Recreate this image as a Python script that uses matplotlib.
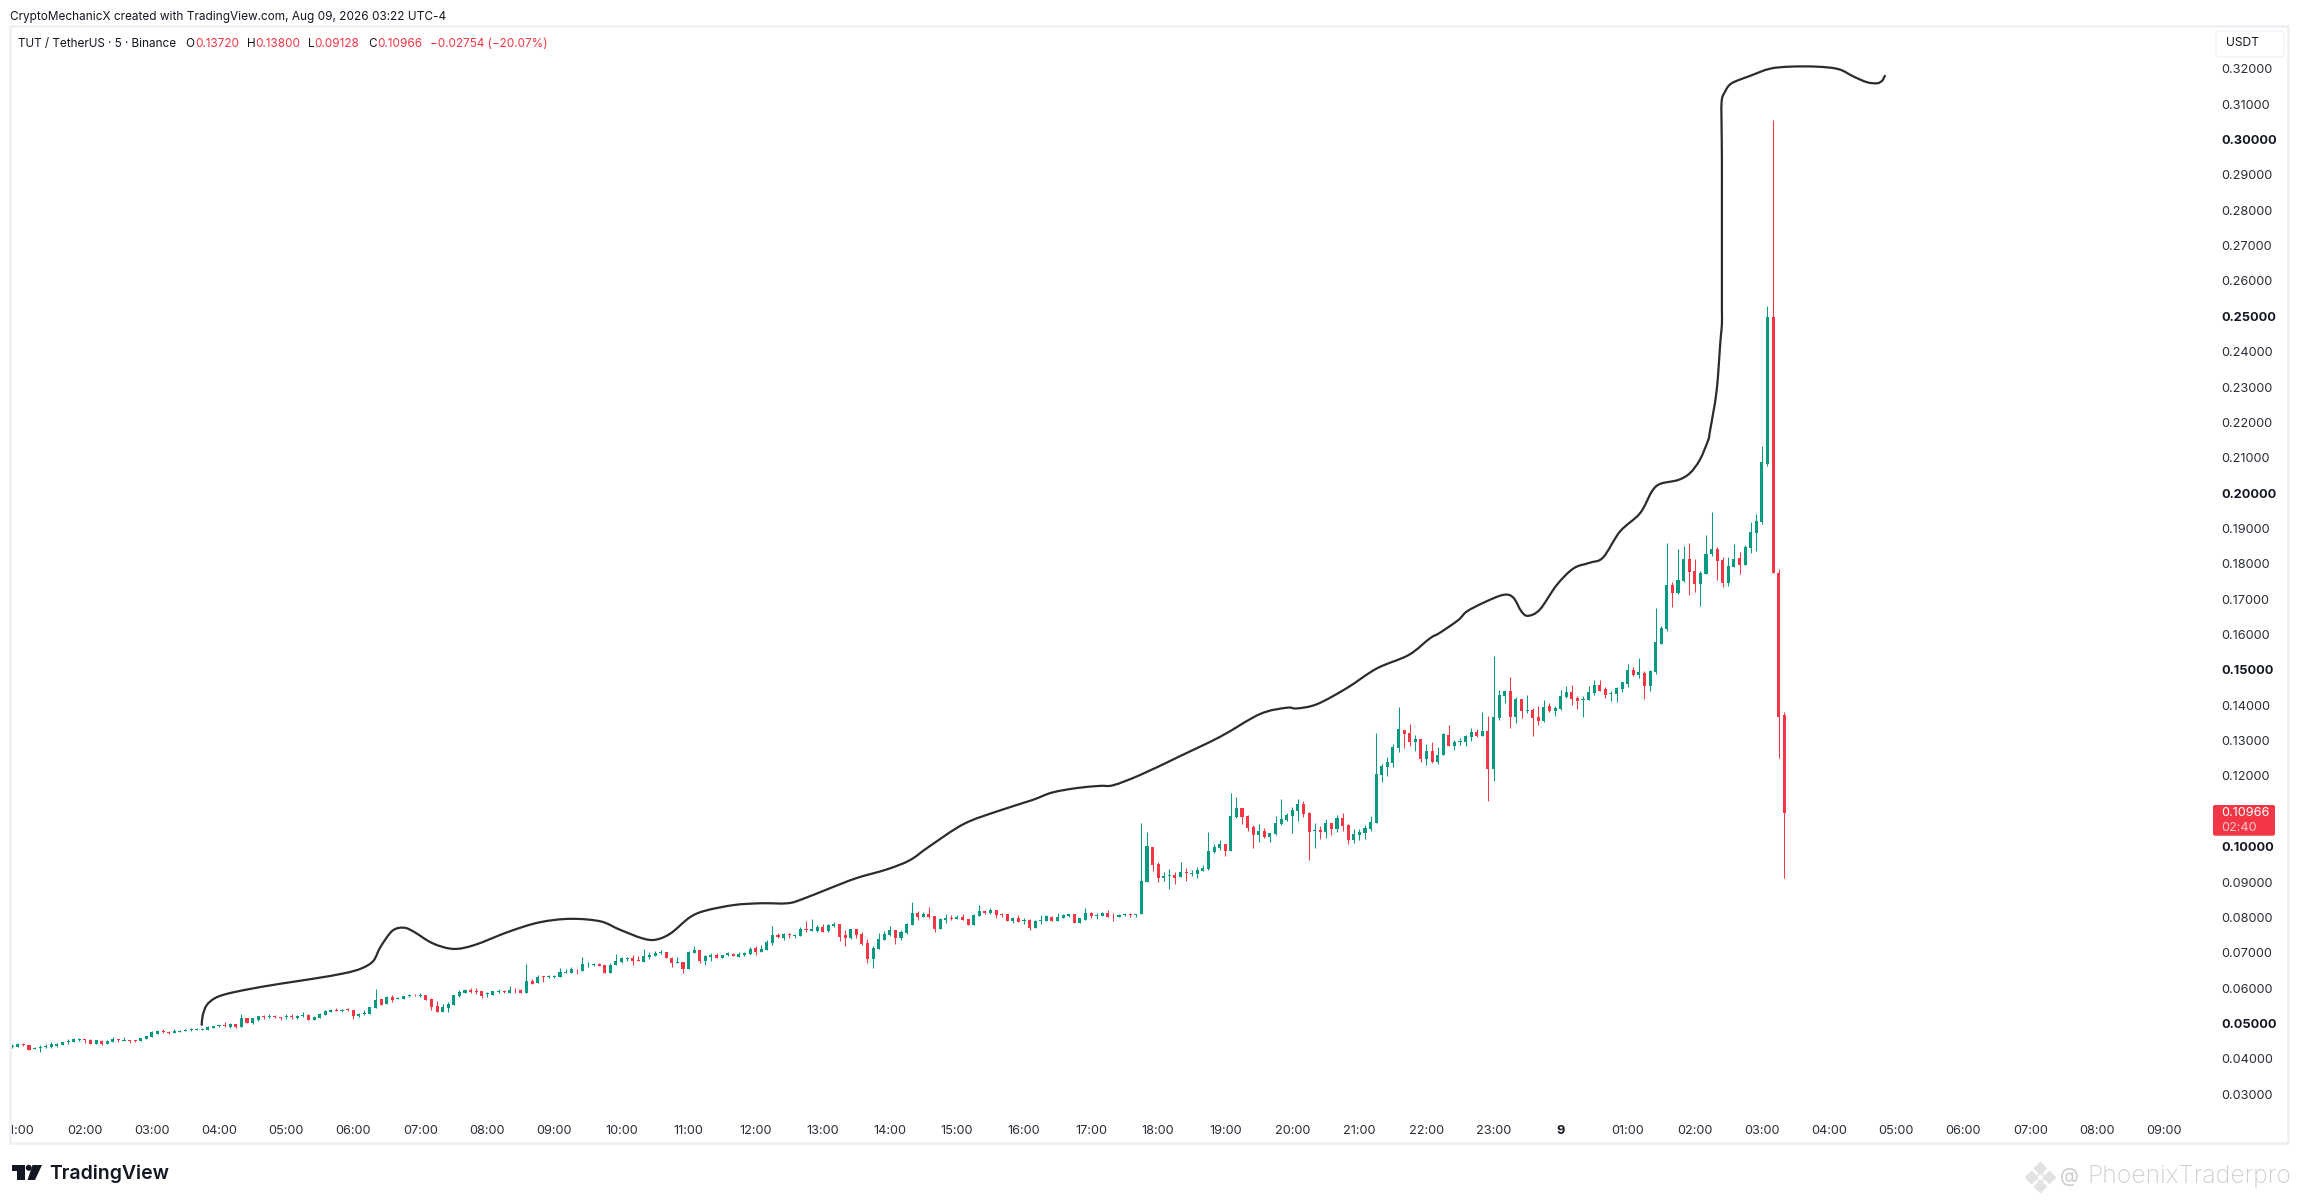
"""
TUT / USDT 5 minute candles with a hand drawn line above them
"""

import numpy as np
import matplotlib
matplotlib.use('Agg')
import matplotlib.pyplot as plt
from matplotlib.patches import Rectangle, Polygon, Circle, FancyBboxPatch, PathPatch
from matplotlib.path import Path

plt.rcParams['font.family'] = ['Inter', 'DejaVu Sans']

# candles
opens = [
    .0433, .0434, .0443, .0439, .0429, .0431, .0434, .0433, .0436, .0440,
    .0448, .0448, .0454, .0455, .0454, .0442, .0451, .0443, .0448, .0455,
    .0451, .0452, .0453, .0451, .0457, .0463, .0471, .0480, .0476, .0474,
    .0477, .0480, .0482, .0483, .0483, .0483, .0488, .0493, .0497, .0489,
    .0499, .0491, .0515, .0501, .0511, .0521, .0517, .0522, .0517, .0519,
    .0521, .0516, .0521, .0525, .0511, .0516, .0524, .0533, .0538, .0536,
    .0540, .0537, .0521, .0528, .0527, .0545, .0568, .0555, .0576, .0570,
    .0569, .0579, .0581, .0579, .0580, .0570, .0550, .0533, .0544, .0552,
    .0578, .0586, .0595, .0592, .0592, .0584, .0581, .0590, .0593, .0586,
    .0593, .0596, .0586, .0620, .0615, .0632, .0632, .0632, .0632, .0644,
    .0643, .0652, .0649, .0667, .0665, .0668, .0665, .0644, .0665, .0674,
    .0681, .0684, .0678, .0674, .0688, .0692, .0700, .0702, .0686, .0672,
    .0673, .0655, .0699, .0708, .0678, .0688, .0694, .0686, .0694, .0697,
    .0689, .0695, .0697, .0713, .0702, .0708, .0727, .0751, .0743, .0753,
    .0748, .0747, .0766, .0763, .0763, .0774, .0761, .0776, .0781, .0750,
    .0741, .0767, .0752, .0727, .0682, .0711, .0737, .0749, .0764, .0742,
    .0755, .0778, .0813, .0801, .0809, .0804, .0767, .0793, .0799, .0796,
    .0801, .0795, .0778, .0804, .0818, .0812, .0820, .0810, .0810, .0789,
    .0799, .0789, .0793, .0770, .0791, .0791, .0801, .0791, .0799, .0804,
    .0810, .0784, .0794, .0812, .0805, .0805, .0812, .0805, .0802, .0808,
    .0810, .0808, .0810, .0901, .0999, .0951, .0911, .0917, .0920, .0914,
    .0928, .0922, .0923, .0931, .0937, .0985, .0996, .1007, .0988, .1084,
    .1109, .1087, .1056, .1033, .1044, .1027, .1036, .1064, .1075, .1087,
    .1101, .1121, .1095, .1044, .1047, .1041, .1067, .1050, .1081, .1061,
    .1019, .1033, .1038, .1050, .1067, .1203, .1225, .1237, .1279, .1330,
    .1321, .1296, .1304, .1248, .1270, .1239, .1259, .1316, .1285, .1296,
    .1296, .1310, .1324, .1313, .1327, .1220, .1364, .1426, .1440, .1367,
    .1418, .1384, .1386, .1367, .1355, .1398, .1384, .1389, .1423, .1437,
    .1420, .1415, .1415, .1435, .1457, .1446, .1432, .1432, .1446, .1460,
    .1499, .1485, .1491, .1454, .1494, .1573, .1615, .1740, .1717, .1751,
    .1814, .1780, .1743, .1771, .1828, .1842, .1811, .1746, .1791, .1816,
    .1797, .1845, .1887, .1917, .2081, .2498, .1774, .13720,
]
highs = [
    .0441, .0444, .0445, .0439, .0433, .0439, .0442, .0448, .0445, .0448,
    .0455, .0459, .0460, .0455, .0455, .0453, .0453, .0452, .0462, .0455,
    .0462, .0452, .0453, .0460, .0466, .0480, .0482, .0484, .0478, .0484,
    .0481, .0484, .0487, .0486, .0486, .0494, .0493, .0497, .0504, .0501,
    .0500, .0526, .0515, .0515, .0522, .0524, .0527, .0523, .0517, .0527,
    .0526, .0525, .0532, .0526, .0520, .0531, .0538, .0540, .0545, .0541,
    .0544, .0538, .0530, .0538, .0548, .0597, .0570, .0578, .0580, .0576,
    .0577, .0583, .0584, .0585, .0581, .0572, .0564, .0555, .0560, .0582,
    .0596, .0598, .0600, .0599, .0593, .0588, .0592, .0597, .0596, .0605,
    .0599, .0597, .0668, .0626, .0636, .0633, .0637, .0636, .0656, .0654,
    .0659, .0653, .0687, .0673, .0670, .0670, .0666, .0670, .0696, .0687,
    .0688, .0694, .0691, .0711, .0701, .0706, .0708, .0702, .0687, .0688,
    .0674, .0704, .0719, .0709, .0694, .0699, .0698, .0695, .0702, .0699,
    .0702, .0703, .0717, .0720, .0723, .0736, .0776, .0757, .0757, .0756,
    .0753, .0773, .0790, .0795, .0778, .0781, .0780, .0787, .0781, .0764,
    .0768, .0767, .0759, .0738, .0719, .0756, .0763, .0776, .0764, .0764,
    .0783, .0843, .0818, .0815, .0829, .0805, .0797, .0810, .0806, .0807,
    .0810, .0795, .0809, .0835, .0820, .0827, .0821, .0813, .0811, .0802,
    .0807, .0797, .0795, .0792, .0807, .0807, .0803, .0812, .0811, .0811,
    .0811, .0799, .0827, .0815, .0812, .0815, .0821, .0812, .0809, .0813,
    .0813, .0811, .1067, .1041, .0999, .0957, .0928, .0937, .0928, .0957,
    .0940, .0934, .0942, .0948, .1041, .1007, .1019, .1007, .1152, .1140,
    .1109, .1090, .1061, .1064, .1053, .1038, .1087, .1135, .1095, .1112,
    .1135, .1129, .1098, .1067, .1058, .1078, .1067, .1089, .1095, .1064,
    .1050, .1050, .1061, .1087, .1321, .1234, .1254, .1290, .1395, .1330,
    .1347, .1316, .1304, .1290, .1296, .1282, .1321, .1344, .1302, .1307,
    .1316, .1336, .1333, .1381, .1369, .1539, .1443, .1443, .1480, .1423,
    .1418, .1429, .1392, .1398, .1415, .1406, .1398, .1443, .1454, .1457,
    .1426, .1426, .1454, .1471, .1471, .1451, .1440, .1451, .1466, .1516,
    .1508, .1533, .1497, .1500, .1675, .1624, .1859, .1748, .1842, .1850,
    .1859, .1814, .1780, .1881, .1946, .1847, .1819, .1819, .1856, .1833,
    .1853, .1918, .1941, .2133, .2529, .3054, .1786, .13800,
]
lows = [
    .0432, .0433, .0437, .0425, .0428, .0420, .0432, .0432, .0434, .0439,
    .0443, .0447, .0450, .0445, .0442, .0441, .0438, .0442, .0447, .0448,
    .0450, .0445, .0448, .0450, .0456, .0462, .0470, .0473, .0471, .0473,
    .0476, .0479, .0479, .0481, .0482, .0482, .0487, .0490, .0490, .0488,
    .0488, .0490, .0501, .0500, .0507, .0514, .0516, .0516, .0511, .0514,
    .0514, .0514, .0517, .0510, .0510, .0516, .0523, .0532, .0535, .0532,
    .0535, .0514, .0518, .0524, .0526, .0544, .0552, .0554, .0562, .0568,
    .0568, .0576, .0579, .0574, .0566, .0538, .0532, .0532, .0532, .0551,
    .0576, .0585, .0587, .0583, .0572, .0576, .0580, .0585, .0586, .0585,
    .0586, .0585, .0585, .0611, .0614, .0617, .0630, .0630, .0631, .0642,
    .0642, .0640, .0648, .0660, .0663, .0662, .0644, .0643, .0665, .0672,
    .0678, .0665, .0676, .0674, .0683, .0691, .0697, .0685, .0660, .0671,
    .0644, .0654, .0698, .0671, .0665, .0677, .0685, .0685, .0692, .0691,
    .0688, .0691, .0695, .0694, .0701, .0707, .0723, .0742, .0737, .0743,
    .0743, .0747, .0759, .0761, .0759, .0758, .0760, .0774, .0733, .0720,
    .0739, .0742, .0722, .0672, .0658, .0710, .0736, .0748, .0726, .0736,
    .0752, .0778, .0793, .0800, .0799, .0759, .0766, .0785, .0792, .0795,
    .0793, .0778, .0778, .0803, .0811, .0811, .0798, .0801, .0790, .0784,
    .0786, .0781, .0765, .0769, .0781, .0790, .0790, .0790, .0798, .0802,
    .0783, .0783, .0793, .0798, .0795, .0804, .0800, .0791, .0801, .0803,
    .0802, .0801, .0810, .0900, .0931, .0900, .0904, .0880, .0894, .0913,
    .0903, .0917, .0911, .0930, .0934, .0982, .0990, .0973, .0988, .1081,
    .1064, .1044, .0996, .1013, .1024, .1013, .1033, .1061, .1072, .1038,
    .1072, .1084, .0962, .0996, .1022, .1024, .1033, .1041, .1044, .1007,
    .1010, .1019, .1021, .1044, .1067, .1183, .1200, .1225, .1268, .1279,
    .1285, .1270, .1239, .1231, .1237, .1234, .1259, .1285, .1273, .1288,
    .1285, .1299, .1310, .1313, .1129, .1186, .1358, .1406, .1336, .1350,
    .1364, .1378, .1313, .1344, .1352, .1381, .1370, .1386, .1420, .1401,
    .1389, .1367, .1414, .1429, .1440, .1420, .1412, .1409, .1437, .1451,
    .1482, .1477, .1417, .1440, .1488, .1573, .1610, .1678, .1714, .1748,
    .1712, .1720, .1681, .1771, .1822, .1754, .1734, .1737, .1791, .1771,
    .1797, .1830, .1836, .1914, .2077, .1774, .1250, .09128,
]
closes = [
    .0437, .0443, .0438, .0425, .0431, .0433, .0437, .0441, .0443, .0447,
    .0450, .0456, .0456, .0454, .0443, .0452, .0441, .0450, .0456, .0453,
    .0452, .0451, .0451, .0459, .0465, .0475, .0480, .0475, .0474, .0480,
    .0478, .0482, .0483, .0484, .0484, .0490, .0492, .0494, .0494, .0499,
    .0491, .0515, .0502, .0515, .0520, .0519, .0522, .0517, .0516, .0521,
    .0519, .0521, .0523, .0511, .0518, .0528, .0536, .0538, .0536, .0538,
    .0539, .0520, .0527, .0529, .0548, .0566, .0553, .0575, .0566, .0572,
    .0577, .0580, .0580, .0580, .0567, .0546, .0533, .0548, .0555, .0580,
    .0590, .0596, .0588, .0589, .0579, .0586, .0591, .0593, .0590, .0596,
    .0591, .0586, .0620, .0613, .0632, .0631, .0635, .0634, .0645, .0647,
    .0654, .0650, .0668, .0668, .0667, .0663, .0644, .0665, .0677, .0685,
    .0684, .0677, .0677, .0691, .0694, .0699, .0703, .0686, .0671, .0673,
    .0655, .0702, .0708, .0677, .0691, .0694, .0686, .0694, .0699, .0692,
    .0697, .0699, .0712, .0702, .0711, .0730, .0750, .0746, .0753, .0750,
    .0751, .0767, .0764, .0766, .0774, .0759, .0779, .0782, .0744, .0742,
    .0767, .0750, .0724, .0682, .0713, .0739, .0754, .0764, .0742, .0759,
    .0781, .0812, .0801, .0809, .0800, .0767, .0795, .0798, .0796, .0802,
    .0793, .0778, .0807, .0818, .0813, .0821, .0806, .0806, .0791, .0798,
    .0787, .0792, .0770, .0790, .0793, .0804, .0791, .0801, .0808, .0809,
    .0784, .0798, .0812, .0803, .0807, .0813, .0801, .0803, .0807, .0810,
    .0808, .0810, .0903, .1002, .0948, .0911, .0917, .0920, .0911, .0928,
    .0926, .0925, .0934, .0940, .0988, .0999, .1007, .0988, .1087, .1109,
    .1084, .1053, .1033, .1044, .1027, .1038, .1067, .1078, .1089, .1104,
    .1121, .1092, .1041, .1047, .1041, .1067, .1050, .1081, .1058, .1019,
    .1036, .1041, .1053, .1070, .1205, .1228, .1239, .1282, .1333, .1319,
    .1296, .1304, .1248, .1270, .1239, .1259, .1319, .1285, .1296, .1299,
    .1313, .1324, .1313, .1327, .1220, .1367, .1429, .1440, .1367, .1418,
    .1384, .1386, .1364, .1355, .1395, .1384, .1392, .1426, .1437, .1418,
    .1412, .1418, .1437, .1457, .1441, .1429, .1434, .1449, .1466, .1499,
    .1485, .1494, .1454, .1497, .1579, .1618, .1740, .1717, .1754, .1814,
    .1777, .1743, .1774, .1828, .1842, .1808, .1746, .1794, .1814, .1797,
    .1847, .1890, .1921, .2087, .2498, .1774, .1367, .10966,
]

# hand drawn line: candle number and price
curve_idx = [
    33.9, 34.1, 34.8, 36.2, 38.2, 42.3, 47.8, 54, 59.4, 62.5, 64.6, 65.9, 68, 70, 71.8,
    75.2, 78.9, 82.7, 88.9, 94.3, 99.8, 105.2, 108.6, 112.7, 115.1, 117.8, 121.2, 124,
    129.1, 133.9, 138.7, 141.4, 146.2, 151, 156.5, 160.6, 164, 170.2, 176.4, 182.5, 186,
    190.5, 194.6, 197, 201.8, 208.9, 216.1, 223.2, 228, 229.8, 233.4, 238.7, 244.1, 249.8,
    253.6, 255.4, 258.7, 260.2, 263.2, 266.7, 268.5, 270, 271.2, 273.3, 276.3, 279.3, 282.2,
    284.6, 287.6, 291.2, 293.3, 294.8, 298, 300.1, 301.9, 303.4, 303.7, 304.9, 305.6, 305.85,
    305.85, 305.85, 305.85, 305.85, 305.8, 305.8, 306.4, 307.6, 310.9, 314.4, 318, 322.8,
    326.7, 329.4, 331.8, 333.6, 334.5, 335,
]
curve_price = [
    .0496, .0524, .0552, .0571, .0583, .0597, .0612, .0627, .0642, .0656, .0677, .0717, .0762, .0771, .0760,
    .0727, .0711, .0722, .0760, .0786, .0796, .0789, .0766, .0741, .0737, .0755, .0800, .0819,
    .0835, .0840, .0840, .0852, .0882, .0911, .0936, .0962, .1000, .1064, .1101, .1132, .1153,
    .1166, .1172, .1174, .1203, .1256, .1311, .1375, .1393, .1391, .1403, .1448, .1504, .1542,
    .1589, .1605, .1641, .1665, .1690, .1712, .1705, .1665, .1653, .1671, .1740, .1787, .1803,
    .1818, .1891, .1943, .2004, .2026, .2037, .2056, .2094, .2150, .2174, .2289, .2433, .2477,
    .2520, .2600, .2800, .2950, .3027, .3107, .3135, .3159, .3180, .3200, .3206, .3206,
    .3199, .3178, .3162, .3159, .3166, .3180,
]

price_ticks = [.03, .04, .05, .06, .07, .08, .09, .10, .11, .12, .13, .14, .15, .16, .17, .18,
               .19, .20, .21, .22, .23, .24, .25, .26, .27, .28, .29, .30, .31, .32]
hidden_prices = [.11]  # sits under the last price label
bold_prices = [.05, .10, .15, .20, .25, .30]

time_labels = ['01:00', '02:00', '03:00', '04:00', '05:00', '06:00', '07:00', '08:00', '09:00',
               '10:00', '11:00', '12:00', '13:00', '14:00', '15:00', '16:00', '17:00', '18:00',
               '19:00', '20:00', '21:00', '22:00', '23:00', '9', '01:00', '02:00', '03:00',
               '04:00', '05:00', '06:00', '07:00', '08:00', '09:00']

GREEN = '#089981'
RED = '#F23645'
TEXT = '#131722'
W, H = 2298, 1203

# mapping of the chart pane in pixels
PANE_L, PANE_R, PANE_T, PANE_B = 11, 2214, 27, 1118
X0, DX = 12.2, 5.59       # first candle and candle spacing
Y10, DY = 846.7, 3536.0   # pixel of 0.10 and pixels per unit of price
BARS_PER_HOUR = 12


def fx(px):
    return px / W


def fy(px):
    return 1 - px / H


def smooth_path(xs, ys):
    """Round the line through the read points with cubic segments"""
    pts = np.column_stack([xs, ys])
    verts = [pts[0]]
    codes = [Path.MOVETO]
    for i in range(len(pts) - 1):
        before = pts[max(i - 1, 0)]
        after = pts[min(i + 2, len(pts) - 1)]
        verts += [pts[i] + (pts[i + 1] - before) / 6, pts[i + 1] - (after - pts[i]) / 6, pts[i + 1]]
        codes += [Path.CURVE4] * 3
    return Path(verts, codes)


fig = plt.figure(figsize=(W / 100, H / 100), dpi=100, facecolor='white')
ax = fig.add_axes([fx(PANE_L), fy(PANE_B), fx(PANE_R - PANE_L), (PANE_B - PANE_T) / H])
ax.set_xlim((PANE_L - X0) / DX, (PANE_R - X0) / DX)
ax.set_ylim(.10 + (Y10 - PANE_B) / DY, .10 + (Y10 - PANE_T) / DY)
for side in ax.spines.values():
    side.set_visible(False)

opens = np.array(opens)
highs = np.array(highs)
lows = np.array(lows)
closes = np.array(closes)
idx = np.arange(len(opens))
colors = np.where(closes >= opens, GREEN, RED)

wicks = ax.vlines(idx, lows, highs, colors=colors, linewidth=0.75, zorder=2)
wicks.set_snap(True)
ax.bar(idx, np.maximum(np.abs(closes - opens), 0.0002), bottom=np.minimum(opens, closes),
       width=0.55, color=colors, linewidth=0, zorder=3)
ax.add_patch(PathPatch(smooth_path(curve_idx, curve_price), facecolor='none', edgecolor='#2b2b30',
                       linewidth=1.6, joinstyle='round', capstyle='round', zorder=4))

# price axis
ax.yaxis.tick_right()
shown = [p for p in price_ticks if p not in hidden_prices]
ax.set_yticks(shown)
ax.set_yticklabels(['%.5f' % p for p in shown])
ax.tick_params(axis='y', length=0, pad=5, labelsize=9.2, labelcolor='#2a2e39')
for p, label in zip(shown, ax.get_yticklabels()):
    if p in bold_prices:
        label.set_fontweight('bold')
        label.set_color(TEXT)

# time axis
ax.set_xticks([1 + BARS_PER_HOUR * i for i in range(len(time_labels))])
ax.set_xticklabels(time_labels)
ax.tick_params(axis='x', length=0, pad=5, labelsize=9.2, labelcolor='#2a2e39')
for name, label in zip(time_labels, ax.get_xticklabels()):
    if name == '9':
        label.set_fontweight('bold')
        label.set_color(TEXT)

# frame around chart and price scale, white strip cuts the first time label
fig.add_artist(Rectangle((0, fy(1143)), fx(9), (1143 - 1100) / H, transform=fig.transFigure,
                         facecolor='white', edgecolor='none', zorder=5))
fig.add_artist(Rectangle((fx(10), fy(1143)), fx(2288 - 10), (1143 - 25.5) / H, transform=fig.transFigure,
                         facecolor='none', edgecolor='#f0f1f3', linewidth=2, zorder=6))

# header and legend
fig.text(fx(10.5), fy(17), 'CryptoMechanicX created with TradingView.com, Aug 09, 2026 03:22 UTC-4',
         fontsize=8.5, color=TEXT, va='center', ha='left')
legend_items = [
    (18, 'TUT / TetherUS · 5 · Binance', TEXT), (185.6, 'O', TEXT), (194.8, '0.13720', RED),
    (246.8, 'H', TEXT), (255.6, '0.13800', RED), (308, 'L', TEXT), (314.6, '0.09128', RED),
    (368, 'C', TEXT), (377, '0.10966', RED), (430, '−0.02754 (−20.07%)', RED),
]
for lx, s, c in legend_items:
    fig.text(fx(lx), fy(44), s, fontsize=8.45, color=c, va='center', ha='left')

# currency box
fig.add_artist(FancyBboxPatch((2216, H - 57), 68, 26, boxstyle='round,pad=0,rounding_size=4',
                              transform=None, facecolor='white', edgecolor='#f0f3fa', linewidth=1, zorder=6))
fig.text(fx(2226), fy(43.5), 'USDT', fontsize=8.7, color=TEXT, va='center', ha='left', zorder=7)

# last price label
fig.add_artist(FancyBboxPatch((2213, H - 835.7), 62, 30.7, boxstyle='round,pad=0,rounding_size=2',
                              transform=None, facecolor=RED, edgecolor='none', zorder=6))
fig.text(fx(2221), fy(813.5), '0.10966', fontsize=9.2, color='white', va='center', ha='left', zorder=7)
fig.text(fx(2221), fy(828), '02:40', fontsize=9.2, color='#fbc4c9', va='center', ha='left', zorder=7)

# TradingView logo
logo_t = [(11.5, 1165), (25, 1165), (25, 1180), (17, 1180), (17, 1171), (11.5, 1171)]
logo_slash = [(32.5, 1165), (42, 1165), (35, 1180), (27.5, 1180)]
for shape in (logo_t, logo_slash):
    fig.add_artist(Polygon([(fx(a), fy(b)) for a, b in shape], closed=True, transform=fig.transFigure,
                           facecolor=TEXT, edgecolor='none'))
fig.add_artist(Circle((28.7, H - 1167.8), 3, transform=None, facecolor=TEXT, edgecolor='none'))
fig.text(fx(49), fy(1173.5), 'TradingView', fontsize=14, fontweight='semibold', color=TEXT,
         va='center', ha='left')

# watermark
WM = '#e2e2e2'
for dx_, dy_, size in [(0, -9, 36), (-9, 0, 36), (9, 0, 36), (0, 9, 36), (0, 0, 22)]:
    fig.add_artist(plt.Line2D([fx(2040 + dx_)], [fy(1177 + dy_)], marker='D', markersize=size ** 0.5,
                              color='none', markerfacecolor='none' if size == 22 else WM,
                              markeredgecolor=WM, transform=fig.transFigure))
fig.text(fx(2060), fy(1177), '@', fontsize=14, color='#cccccc', va='center', ha='left')
fig.text(fx(2087), fy(1177), 'PhoenixTraderpro', fontsize=17.8, color='#cfcfcf', va='center', ha='left',
         fontweight='light')

fig.savefig('out.png', dpi=100, facecolor='white')
